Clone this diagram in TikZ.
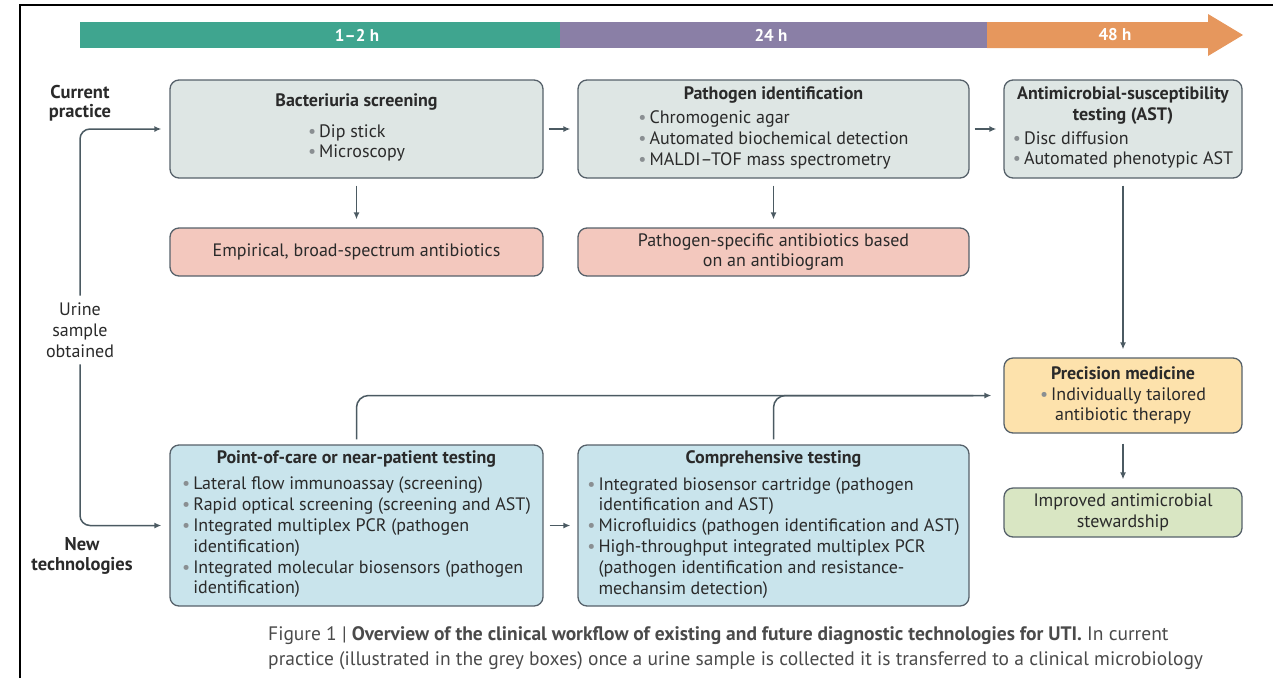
\documentclass[tikz,border=0pt]{standalone}
\usepackage{fontspec}
\setmainfont{PT Sans}
\usepackage{xcolor}
\usepackage{tikz}
\usetikzlibrary{positioning,arrows.meta}
\definecolor{timeteal}{HTML}{3FA58F}
\definecolor{timepurple}{HTML}{8A7FA6}
\definecolor{timeorange}{HTML}{E6975D}
\definecolor{inkgrey}{HTML}{2A2A2A}
\definecolor{edgegrey}{HTML}{56616A}
\definecolor{linegrey}{HTML}{4B5A62}
\definecolor{dotgrey}{HTML}{8A8F92}
\definecolor{oldfill}{HTML}{DEE6E4}
\definecolor{drugfill}{HTML}{F3C8BE}
\definecolor{newfill}{HTML}{C9E4EC}
\definecolor{precfill}{HTML}{FDE2AC}
\definecolor{stewfill}{HTML}{D9E6C3}
\newcommand{\dotmark}{{\color{dotgrey}\textbullet}}
\newcommand{\bul}{\dotmark\hspace{3pt}}
\newenvironment{bullets}{\begin{tabular}{@{}l@{\hspace{3pt}}l@{}}}{\end{tabular}}

\begin{document}
\begin{tikzpicture}[x=1pt, y=-1pt,
  every node/.style={font=\fontsize{18}{20.8}\selectfont, text=inkgrey},
  box/.style={rectangle, draw=edgegrey, line width=1.3pt, rounded corners=9pt,
              align=center, inner sep=4pt},
  oldbox/.style={box, fill=oldfill},
  drugbox/.style={box, fill=drugfill},
  newbox/.style={box, fill=newfill},
  flow/.style={-{Latex[length=7pt,width=6pt]}, line width=1.5pt, draw=linegrey},
  side/.style={font=\fontsize{18.5}{19.5}\selectfont\bfseries, align=center},
  span/.style={font=\fontsize{17}{17}\selectfont\bfseries, text=white}
]
\useasboundingbox (0,0) rectangle (1273,678);
% frame
\draw[line width=2.5pt] (20,678) -- (20,5) -- (1273,5);
% time line
\fill[timeteal]   (80,22) rectangle (560,48);
\fill[timepurple] (560,22) rectangle (987,48);
\fill[timeorange] (987,22) -- (1208,22) -- (1208,14) -- (1243,35)
                  -- (1208,56) -- (1208,48) -- (987,48) -- cycle;
\node[span] (h1)  at (357,35)  {1--2 h};
\node[span] (h24) at (771,35)  {24 h};
\node[span] (h48) at (1115,35) {48 h};
% side labels
\node[side] (cur)  at (80,103) {Current\\practice};
\node[align=center, inner ysep=7pt] (urine) at (80,330) {Urine\\sample\\obtained};
\node[side] (newt) at (82,556) {New\\technologies};
% current practice
\node[oldbox, minimum width=373pt, minimum height=98pt] (bs) at (356.5,129)
  {\textbf{Bacteriuria screening}\\[11pt]
   \begin{bullets}\dotmark & Dip stick\\\dotmark & Microscopy\end{bullets}};
\node[oldbox, minimum width=391pt, minimum height=98pt] (pi) at (773.5,129)
  {\textbf{Pathogen identification}\\[5pt]
   \begin{bullets}\dotmark & Chromogenic agar\\\dotmark & Automated biochemical detection\\
   \dotmark & MALDI--TOF mass spectrometry\end{bullets}};
\node[oldbox, minimum width=238pt, minimum height=98pt] (ast) at (1123,129)
  {\textbf{Antimicrobial-susceptibility}\\\textbf{testing (AST)}\\[4pt]
   \begin{bullets}\dotmark & Disc diffusion\\\dotmark & Automated phenotypic AST\end{bullets}};
\node[drugbox, minimum width=373pt, minimum height=48pt] (emp) at (356.5,252)
  {Empirical, broad-spectrum antibiotics};
\node[drugbox, minimum width=391pt, minimum height=48pt] (psa) at (773.5,252)
  {Pathogen-specific antibiotics based\\on an antibiogram};
% new technologies
\node[newbox, minimum width=373pt, minimum height=161pt] (poc) at (356.5,525.5)
  {\textbf{Point-of-care or near-patient testing}\\[7pt]
   \begin{bullets}
   \dotmark & Lateral flow immunoassay (screening)\\
   \dotmark & Rapid optical screening (screening and AST)\\
   \dotmark & Integrated multiplex PCR (pathogen\\
            & identification)\\
   \dotmark & Integrated molecular biosensors (pathogen\\
            & identification)
   \end{bullets}};
\node[newbox, minimum width=391pt, minimum height=161pt] (ct) at (773.5,525.5)
  {\textbf{Comprehensive testing}\\[7pt]
   \begin{bullets}
   \dotmark & Integrated biosensor cartridge (pathogen\\
            & identification and AST)\\
   \dotmark & Microfluidics (pathogen identification and AST)\\
   \dotmark & High-throughput integrated multiplex PCR\\
            & (pathogen identification and resistance-\\
            & mechansim detection)
   \end{bullets}};
% outcomes
\node[box, fill=precfill, minimum width=238pt, minimum height=75pt] (pm) at (1123,395.5)
  {\textbf{Precision medicine}\\\bul Individually tailored\\antibiotic therapy};
\node[box, fill=stewfill, minimum width=238pt, minimum height=49pt] (ims) at (1123,512.5)
  {Improved antimicrobial\\stewardship};
% connectors
\draw[flow, rounded corners=10pt, shorten >=8pt] (urine.north) |- (bs.west);
\draw[flow, rounded corners=10pt, shorten >=8pt] (urine.south) |- (poc.west);
\draw[flow, shorten <=5pt, shorten >=7pt] (bs) -- (pi);
\draw[flow, shorten <=5pt, shorten >=7pt] (pi) -- (ast);
\draw[flow, shorten <=6pt, shorten >=7pt] (poc) -- (ct);
\draw[flow, shorten <=7pt, shorten >=8pt] (bs) -- (emp);
\draw[flow, shorten <=7pt, shorten >=8pt] (pi) -- (psa);
\draw[flow, shorten <=7pt, shorten >=8pt] (ast) -- (pm);
\draw[flow, shorten <=10pt, shorten >=8pt] (pm) -- (ims);
\draw[flow, rounded corners=12pt, shorten <=5pt, shorten >=12pt] (poc.north) |- (pm.west);
\draw[line width=1.5pt, draw=linegrey, rounded corners=12pt, shorten <=5pt]
  (ct.north) |- ([xshift=-30pt]pm.west);
% caption
\node[anchor=north west, align=left, inner sep=0pt, text=inkgrey!85,
      font=\fontsize{19.5}{25}\selectfont] (cap) at (268,626)
  {Figure 1 | \textbf{Overview of the clinical workflow of existing and future diagnostic technologies for UTI.} In current\\
   practice (illustrated in the grey boxes) once a urine sample is collected it is transferred to a clinical microbiology};
\end{tikzpicture}
\end{document}
